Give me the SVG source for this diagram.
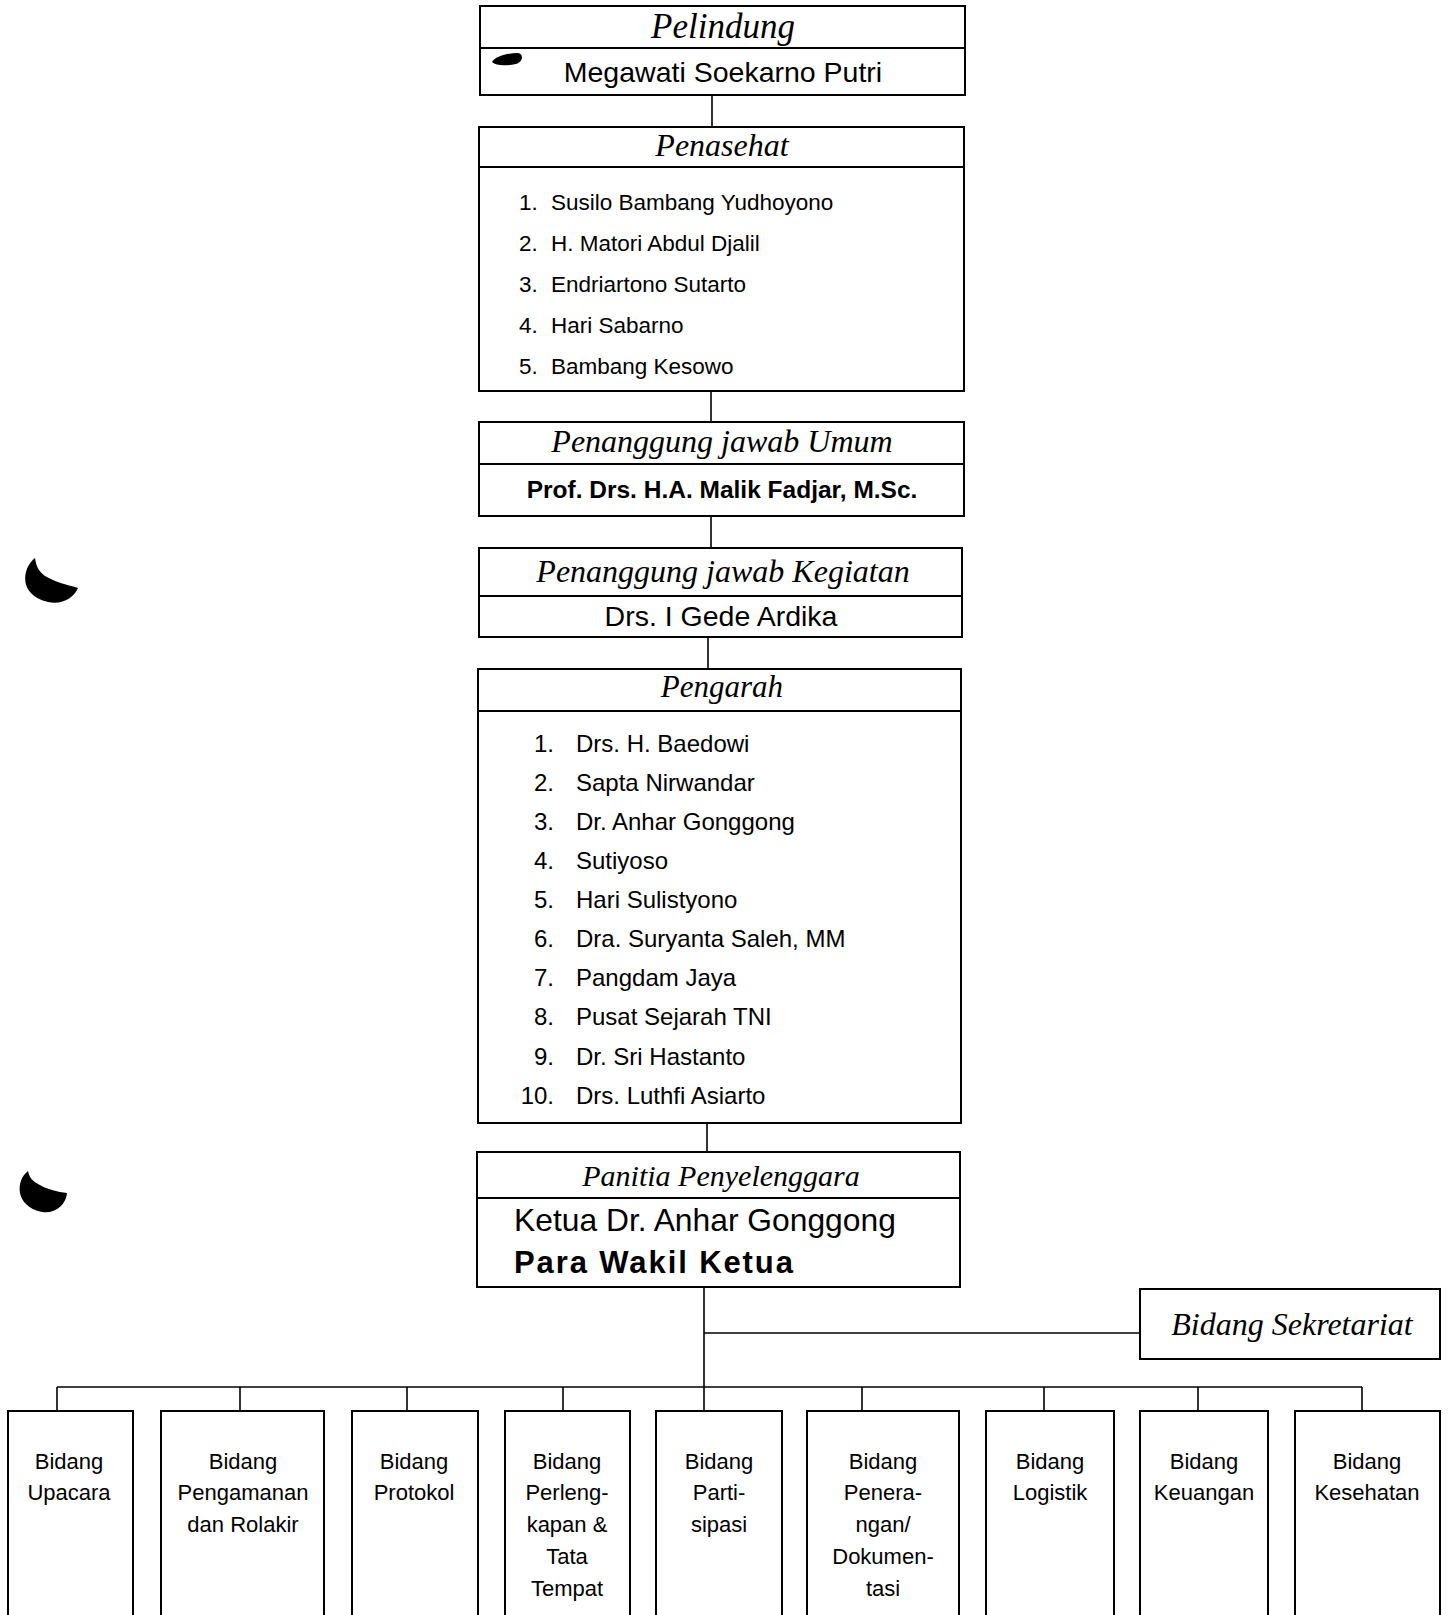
<svg xmlns="http://www.w3.org/2000/svg" width="1448" height="1615" viewBox="0 0 1448 1615">
<style>
.box{fill:#fff;stroke:#000;stroke-width:2}
.div{stroke:#000;stroke-width:2;fill:none}
.ln{stroke:#000;stroke-width:1.6;fill:none}
.ttl{font-family:"Liberation Serif","Times New Roman",serif;font-style:italic;text-anchor:middle;fill:#000}
.sans{font-family:"Liberation Sans",Arial,sans-serif;fill:#000}
.mid{text-anchor:middle}
.end{text-anchor:end}
.bid{font-family:"Liberation Sans",Arial,sans-serif;font-size:22px;text-anchor:middle;fill:#000}
.ink{fill:#000}
</style>
<rect x="0" y="0" width="1448" height="1615" fill="#fff"/>

<g id="connectors">
  <line class="ln" x1="712" y1="95" x2="712" y2="127"/>
  <line class="ln" x1="711" y1="391" x2="711" y2="422"/>
  <line class="ln" x1="711" y1="516" x2="711" y2="548"/>
  <line class="ln" x1="708" y1="637" x2="708" y2="669"/>
  <line class="ln" x1="707" y1="1123" x2="707" y2="1152"/>
  <line class="ln" x1="704" y1="1287" x2="704" y2="1387"/>
  <line class="ln" x1="704" y1="1333" x2="1140" y2="1333"/>
  <line class="ln" x1="57" y1="1387" x2="1362" y2="1387"/>
  <line class="ln" x1="57" y1="1387" x2="57" y2="1411"/>
  <line class="ln" x1="240" y1="1387" x2="240" y2="1411"/>
  <line class="ln" x1="407" y1="1387" x2="407" y2="1411"/>
  <line class="ln" x1="563" y1="1387" x2="563" y2="1411"/>
  <line class="ln" x1="704" y1="1387" x2="704" y2="1411"/>
  <line class="ln" x1="862" y1="1387" x2="862" y2="1411"/>
  <line class="ln" x1="1044" y1="1387" x2="1044" y2="1411"/>
  <line class="ln" x1="1198" y1="1387" x2="1198" y2="1411"/>
  <line class="ln" x1="1362" y1="1387" x2="1362" y2="1411"/>
</g>

<g id="pelindung">
  <rect class="box" x="480" y="6" width="485" height="89"/>
  <line class="div" x1="480" y1="48" x2="965" y2="48"/>
  <text class="ttl" x="723" y="38" font-size="35">Pelindung</text>
  <text class="sans mid" x="723" y="82" font-size="28.5">Megawati Soekarno Putri</text>
</g>

<g id="penasehat">
  <rect class="box" x="479" y="127" width="485" height="264"/>
  <line class="div" x1="479" y1="167" x2="964" y2="167"/>
  <text class="ttl" x="722" y="156" font-size="32">Penasehat</text>
  <g class="sans" font-size="22.5">
    <text x="519" y="210">1.</text><text x="551" y="210">Susilo Bambang Yudhoyono</text>
    <text x="519" y="251">2.</text><text x="551" y="251">H. Matori Abdul Djalil</text>
    <text x="519" y="292">3.</text><text x="551" y="292">Endriartono Sutarto</text>
    <text x="519" y="333">4.</text><text x="551" y="333">Hari Sabarno</text>
    <text x="519" y="374">5.</text><text x="551" y="374">Bambang Kesowo</text>
  </g>
</g>

<g id="pj-umum">
  <rect class="box" x="479" y="422" width="485" height="94"/>
  <line class="div" x1="479" y1="464" x2="964" y2="464"/>
  <text class="ttl" x="722" y="452" font-size="32">Penanggung jawab Umum</text>
  <text class="sans mid" x="722" y="498" font-size="24.5" font-weight="bold">Prof. Drs. H.A. Malik Fadjar, M.Sc.</text>
</g>

<g id="pj-kegiatan">
  <rect class="box" x="479" y="548" width="483" height="89"/>
  <line class="div" x1="479" y1="596" x2="962" y2="596"/>
  <text class="ttl" x="723" y="582" font-size="32">Penanggung jawab Kegiatan</text>
  <text class="sans mid" x="721" y="626" font-size="28.5">Drs. I Gede Ardika</text>
</g>

<g id="pengarah">
  <rect class="box" x="478" y="669" width="483" height="454"/>
  <line class="div" x1="478" y1="711" x2="961" y2="711"/>
  <text class="ttl" x="722" y="697" font-size="31">Pengarah</text>
  <g class="sans" font-size="24">
    <text class="end" x="554" y="752">1.</text><text x="576" y="752">Drs. H. Baedowi</text>
    <text class="end" x="554" y="791">2.</text><text x="576" y="791">Sapta Nirwandar</text>
    <text class="end" x="554" y="830">3.</text><text x="576" y="830">Dr. Anhar Gonggong</text>
    <text class="end" x="554" y="869">4.</text><text x="576" y="869">Sutiyoso</text>
    <text class="end" x="554" y="908">5.</text><text x="576" y="908">Hari Sulistyono</text>
    <text class="end" x="554" y="947">6.</text><text x="576" y="947">Dra. Suryanta Saleh, MM</text>
    <text class="end" x="554" y="986">7.</text><text x="576" y="986">Pangdam Jaya</text>
    <text class="end" x="554" y="1025">8.</text><text x="576" y="1025">Pusat Sejarah TNI</text>
    <text class="end" x="554" y="1065">9.</text><text x="576" y="1065">Dr. Sri Hastanto</text>
    <text class="end" x="554" y="1104">10.</text><text x="576" y="1104">Drs. Luthfi Asiarto</text>
  </g>
</g>

<g id="panitia">
  <rect class="box" x="477" y="1152" width="483" height="135"/>
  <line class="div" x1="477" y1="1198" x2="960" y2="1198"/>
  <text class="ttl" x="721" y="1186" font-size="30">Panitia Penyelenggara</text>
  <text class="sans" x="514" y="1231" font-size="31.8">Ketua Dr. Anhar Gonggong</text>
  <text class="sans" x="514" y="1273" font-size="31" font-weight="bold" letter-spacing="1.9">Para Wakil Ketua</text>
</g>

<g id="sekretariat">
  <rect class="box" x="1140" y="1289" width="300" height="70"/>
  <text class="ttl" x="1292" y="1335" font-size="32">Bidang Sekretariat</text>
</g>

<g id="upacara">
  <rect class="box" x="8" y="1411" width="125" height="230"/>
  <text class="bid" x="69" y="1469">Bidang</text>
  <text class="bid" x="69" y="1500">Upacara</text>
</g>
<g id="pengamanan">
  <rect class="box" x="161" y="1411" width="163" height="230"/>
  <text class="bid" x="243" y="1469">Bidang</text>
  <text class="bid" x="243" y="1500">Pengamanan</text>
  <text class="bid" x="243" y="1532">dan Rolakir</text>
</g>
<g id="protokol">
  <rect class="box" x="352" y="1411" width="126" height="230"/>
  <text class="bid" x="414" y="1469">Bidang</text>
  <text class="bid" x="414" y="1500">Protokol</text>
</g>
<g id="perlengkapan">
  <rect class="box" x="505" y="1411" width="125" height="230"/>
  <text class="bid" x="567" y="1469">Bidang</text>
  <text class="bid" x="567" y="1500">Perleng-</text>
  <text class="bid" x="567" y="1532">kapan &amp;</text>
  <text class="bid" x="567" y="1564">Tata</text>
  <text class="bid" x="567" y="1596">Tempat</text>
</g>
<g id="partisipasi">
  <rect class="box" x="656" y="1411" width="126" height="230"/>
  <text class="bid" x="719" y="1469">Bidang</text>
  <text class="bid" x="719" y="1500">Parti-</text>
  <text class="bid" x="719" y="1532">sipasi</text>
</g>
<g id="penerangan">
  <rect class="box" x="807" y="1411" width="152" height="230"/>
  <text class="bid" x="883" y="1469">Bidang</text>
  <text class="bid" x="883" y="1500">Penera-</text>
  <text class="bid" x="883" y="1532">ngan/</text>
  <text class="bid" x="883" y="1564">Dokumen-</text>
  <text class="bid" x="883" y="1596">tasi</text>
</g>
<g id="logistik">
  <rect class="box" x="986" y="1411" width="128" height="230"/>
  <text class="bid" x="1050" y="1469">Bidang</text>
  <text class="bid" x="1050" y="1500">Logistik</text>
</g>
<g id="keuangan">
  <rect class="box" x="1140" y="1411" width="128" height="230"/>
  <text class="bid" x="1204" y="1469">Bidang</text>
  <text class="bid" x="1204" y="1500">Keuangan</text>
</g>
<g id="kesehatan">
  <rect class="box" x="1295" y="1411" width="145" height="230"/>
  <text class="bid" x="1367" y="1469">Bidang</text>
  <text class="bid" x="1367" y="1500">Kesehatan</text>
</g>

<g id="marks">
  <path class="ink" d="M35,558 C22,568 18,595 48,602 C62,605 74,598 78,588 C68,585 55,582 45,576 C38,571 36,565 35,558 Z"/>
  <path class="ink" d="M28,1171 C16,1180 14,1206 42,1212 C55,1214 66,1205 67,1193 C58,1192 46,1189 38,1184 C31,1180 29,1176 28,1171 Z"/>
  <path class="ink" d="M492,62 C496,56 508,53 518,53 C524,54 523,62 516,64 C506,66 496,66 492,62 Z"/>
</g>
</svg>
